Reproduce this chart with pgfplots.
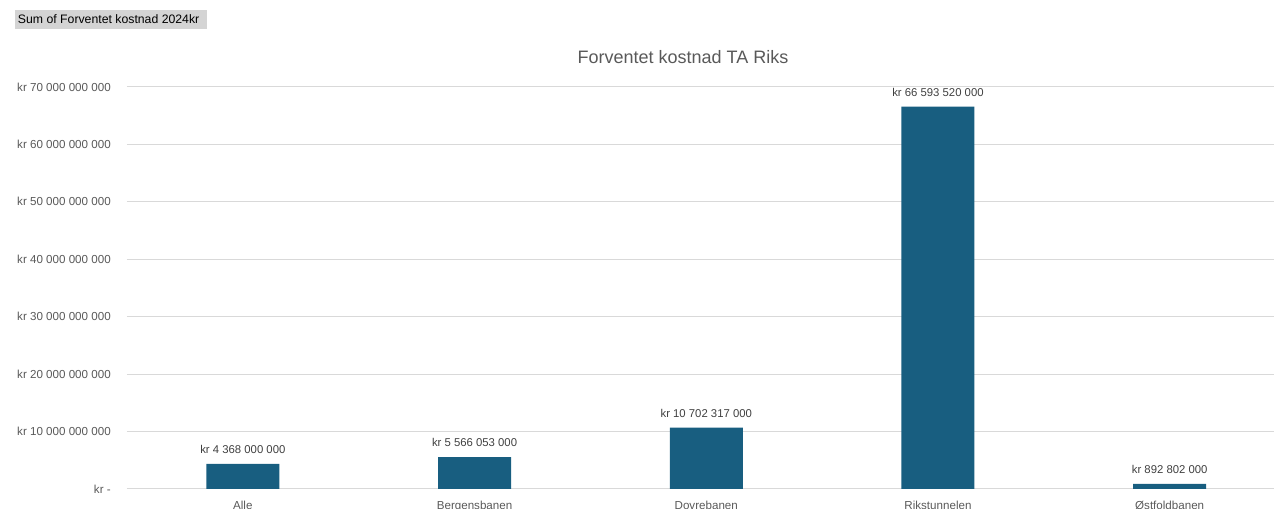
\documentclass[border=0pt]{standalone}
\usepackage{fontspec}
\setmainfont{Liberation Sans}
\usepackage{pgfplots}
\pgfplotsset{compat=1.18}
\definecolor{barc}{RGB}{24,94,128}
\definecolor{txt}{RGB}{89,89,89}
\definecolor{lbl}{RGB}{64,64,64}
\definecolor{gridc}{RGB}{217,217,217}
\begin{document}
\begin{tikzpicture}
\begin{axis}[
  at={(0pt,0pt)}, anchor=south west,
  scale only axis, width=868.9pt, height=301.5pt,
  xmin=-0.5, xmax=4.5, ymin=0, ymax=70e9,
  axis line style={draw=none},
  major tick length=0pt,
  scaled y ticks=false,
  ymajorgrids, grid style={gridc, line width=0.75pt},
  ytick={0,10e9,20e9,30e9,40e9,50e9,60e9,70e9},
  yticklabels={kr -, kr 10 000 000 000, kr 20 000 000 000, kr 30 000 000 000, kr 40 000 000 000, kr 50 000 000 000, kr 60 000 000 000, kr 70 000 000 000},
  yticklabel style={font=\fontsize{8.7}{10}\selectfont, text=txt, anchor=east, inner sep=0pt, xshift=-12pt},
  xtick={0,1,2,3,4},
  xticklabels={Alle, Bergensbanen, Dovrebanen, Rikstunnelen, Østfoldbanen},
  xticklabel style={font=\fontsize{8.7}{10}\selectfont, text=txt, anchor=north, inner sep=0pt, yshift=-8.5pt},
  ybar, bar width=54.75pt,
  point meta=explicit symbolic,
  nodes near coords={\pgfplotspointmeta},
  nodes near coords style={font=\fontsize{8.5}{10}\selectfont, text=lbl, anchor=south, inner sep=0pt, yshift=7.5pt},
  clip=false,
]
\addplot[fill=barc, draw=none] coordinates {
  (0,4368000000) [kr 4 368 000 000]
  (1,5566053000) [kr 5 566 053 000]
  (2,10702317000) [kr 10 702 317 000]
  (3,66593520000) [kr 66 593 520 000]
  (4,892802000) [kr 892 802 000]
};
\end{axis}
\node[text=txt, font=\fontsize{13.5}{16}\selectfont] at (417pt,324pt) {Forventet kostnad TA Riks};
\fill[black!17] (-84pt,345pt) rectangle (60pt,359.25pt);
\node[text=black, font=\fontsize{9.2}{10}\selectfont, inner sep=0pt, anchor=west] at (-82pt,352.1pt) {Sum of Forventet kostnad 2024kr};
\pgfresetboundingbox
\path[use as bounding box] (-95.25pt,-15pt) rectangle (860.25pt,366.75pt);
\end{tikzpicture}
\end{document}
